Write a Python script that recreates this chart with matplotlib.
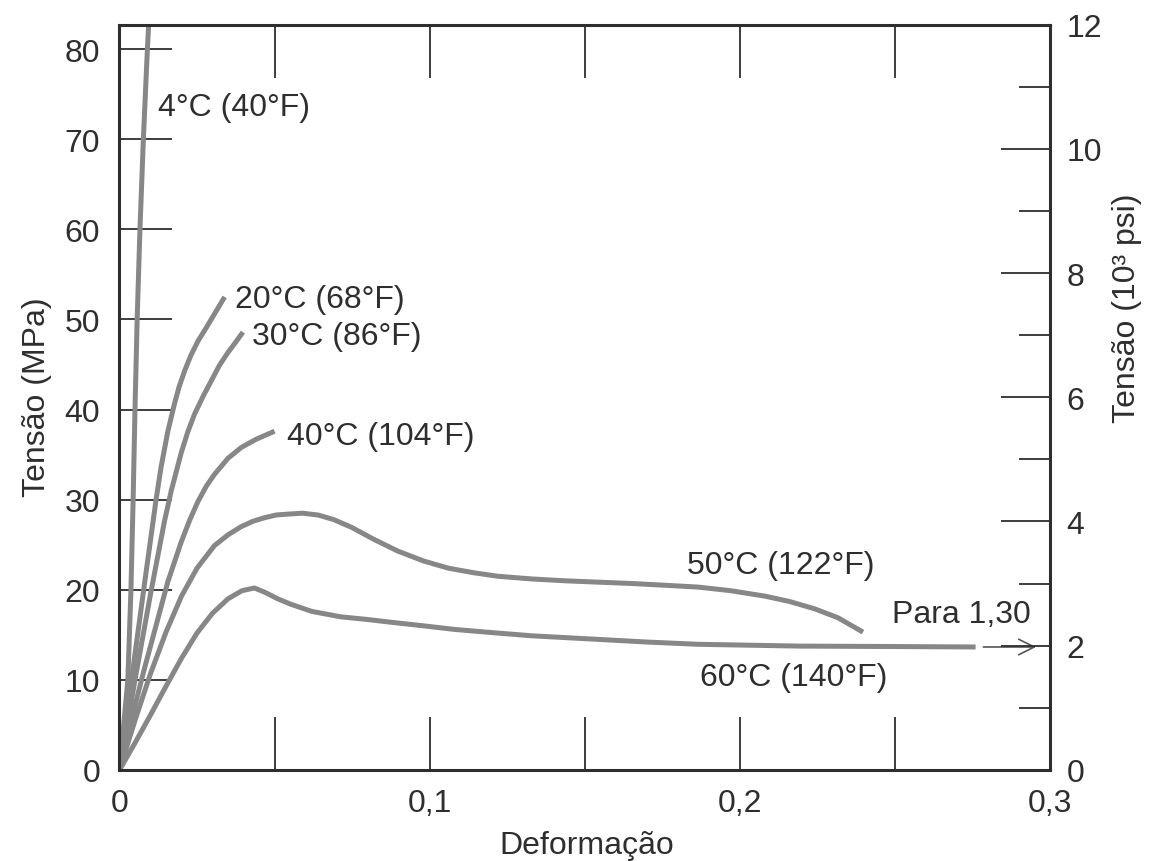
import matplotlib
matplotlib.use("Agg")
import matplotlib.pyplot as plt
from matplotlib.ticker import MultipleLocator

plt.rcParams["font.family"] = ["Liberation Sans", "DejaVu Sans"]

# deformação (strain) vs tensão (MPa)
x_4c = [0, 0.0027, 0.0037, 0.0044, 0.0050, 0.0057, 0.0066, 0.0077, 0.0090, 0.0096]
y_4c = [0, 10.0, 20.0, 30.0, 40.0, 50.0, 60.0, 70.0, 80.0, 84.0]

x_20c = [0, 0.0040, 0.0080, 0.0118, 0.0134, 0.0156, 0.0177, 0.0192, 0.0210,
         0.0230, 0.0253, 0.0280, 0.0306, 0.0339]
y_20c = [0, 10.3, 20.5, 30.0, 33.6, 37.6, 40.6, 42.5, 44.3,
         46.0, 47.6, 49.1, 50.6, 52.5]

x_30c = [0, 0.0050, 0.0100, 0.0145, 0.0167, 0.0199, 0.0220, 0.0242, 0.0270,
         0.0296, 0.0322, 0.0349, 0.0375, 0.0398]
y_30c = [0, 10.0, 19.5, 27.6, 31.0, 35.2, 37.5, 39.5, 41.5,
         43.2, 44.9, 46.3, 47.5, 48.6]

x_40c = [0, 0.0040, 0.0080, 0.0113, 0.0156, 0.0199, 0.0226, 0.0253, 0.0280,
         0.0306, 0.0350, 0.0393, 0.0440, 0.0500]
y_40c = [0, 5.8, 11.2, 15.4, 20.9, 25.3, 27.7, 29.8, 31.5,
         32.8, 34.6, 35.8, 36.7, 37.6]

x_50c = [0, 0.0050, 0.0100, 0.0150, 0.0200, 0.0250, 0.0306, 0.0350, 0.0392,
         0.0430, 0.0468, 0.0505, 0.0543, 0.0590, 0.0640, 0.0690, 0.0750, 0.0820,
         0.0897, 0.0980, 0.1060, 0.1140, 0.1220, 0.1330, 0.1435, 0.1540, 0.1650,
         0.1760, 0.1865, 0.1970, 0.2080, 0.2160, 0.2240, 0.2316, 0.2397]
y_50c = [0, 5.5, 10.7, 15.3, 19.3, 22.4, 24.9, 26.1, 27.0,
         27.6, 28.0, 28.3, 28.4, 28.5, 28.3, 27.8, 26.9, 25.6,
         24.3, 23.2, 22.4, 21.9, 21.5, 21.2, 21.0, 20.85, 20.7,
         20.5, 20.3, 19.9, 19.3, 18.7, 17.9, 16.9, 15.3]

x_60c = [0, 0.0050, 0.0100, 0.0150, 0.0200, 0.0250, 0.0300, 0.0350, 0.0395,
         0.0435, 0.0470, 0.0510, 0.0552, 0.0620, 0.0713, 0.0800, 0.0874, 0.0980,
         0.1080, 0.1200, 0.1326, 0.1540, 0.1700, 0.1865, 0.2190, 0.2500, 0.2760]
y_60c = [0, 3.0, 6.1, 9.3, 12.4, 15.2, 17.4, 19.0, 19.9,
         20.2, 19.7, 19.0, 18.4, 17.6, 17.0, 16.7, 16.4, 16.0,
         15.6, 15.25, 14.9, 14.5, 14.2, 13.95, 13.75, 13.7, 13.65]

curves = [(x_4c, y_4c), (x_20c, y_20c), (x_30c, y_30c),
          (x_40c, y_40c), (x_50c, y_50c), (x_60c, y_60c)]

labels = ["4°C (40°F)", "20°C (68°F)", "30°C (86°F)", "40°C (104°F)",
          "50°C (122°F)", "60°C (140°F)", "Para 1,30"]
label_x = [0.0123, 0.0373, 0.0427, 0.0540, 0.1830, 0.1870, 0.2490]
label_y = [73.6, 52.3, 48.2, 37.1, 22.75, 10.3, 17.3]

arrow_x = [0.2785, 0.2955]

x_ticks = [0, 0.05, 0.1, 0.15, 0.2, 0.25, 0.3]
x_ticklabels = ["0", "", "0,1", "", "0,2", "", "0,3"]
y_ticks = [0, 10, 20, 30, 40, 50, 60, 70, 80]
psi_ticks = [0, 2, 4, 6, 8, 10, 12]
MPA_PER_KSI = 6.895
psi_max = 12

ink = "#2e2e2e"
curve_col = "#878787"
fs = 23

fig = plt.figure(figsize=(11.51, 8.62), dpi=100)
ax = fig.add_axes([0.1038, 0.1056, 0.8085, 0.8648])

for xs, ys in curves:
    ax.plot(xs, ys, color=curve_col, lw=3.6, solid_capstyle="butt",
            solid_joinstyle="round")

for txt, lx, ly in zip(labels, label_x, label_y):
    ax.text(lx, ly, txt, fontsize=fs, color=ink, ha="left", va="center")

ax.annotate("", xy=(arrow_x[1], y_60c[-1]), xytext=(arrow_x[0], y_60c[-1]),
            arrowprops=dict(arrowstyle="->", color="#555555", lw=1.2,
                            mutation_scale=28, shrinkA=0, shrinkB=0))

ax.set_xlim(0, 0.3)
ax.set_ylim(0, psi_max * MPA_PER_KSI)
ax.set_xticks(x_ticks, labels=x_ticklabels)
ax.set_yticks(y_ticks)
ax.tick_params(axis="x", direction="in", length=38, width=1.3, color=ink,
               top=True, labelsize=fs, labelcolor=ink, pad=13)
ax.tick_params(axis="y", direction="in", length=38, width=1.3, color=ink,
               right=False, labelsize=fs, labelcolor=ink, pad=14)
for s in ax.spines.values():
    s.set_color(ink)
    s.set_linewidth(2.2)

ax2 = ax.twinx()
ax2.set_ylim(0, psi_max)
ax2.set_yticks(psi_ticks)
ax2.yaxis.set_minor_locator(MultipleLocator(1))
ax2.tick_params(axis="y", which="major", direction="in", length=35, width=1.3,
                color=ink, labelsize=fs, labelcolor=ink, pad=12)
ax2.tick_params(axis="y", which="minor", direction="in", length=22, width=1.3,
                color=ink)
for s in ax2.spines.values():
    s.set_visible(False)

fig.text(587 / 1151, 1 - 846 / 862, "Deformação", fontsize=fs, color=ink,
         ha="center", va="center")
fig.text(37 / 1151, 1 - 397 / 862, "Tensão (MPa)", fontsize=fs, color=ink,
         ha="center", va="center", rotation=90)
fig.text(1127 / 1151, 1 - 308 / 862, "Tensão (10³ psi)", fontsize=fs, color=ink,
         ha="center", va="center", rotation=90)

fig.savefig("out.png", dpi=100, facecolor="white")
